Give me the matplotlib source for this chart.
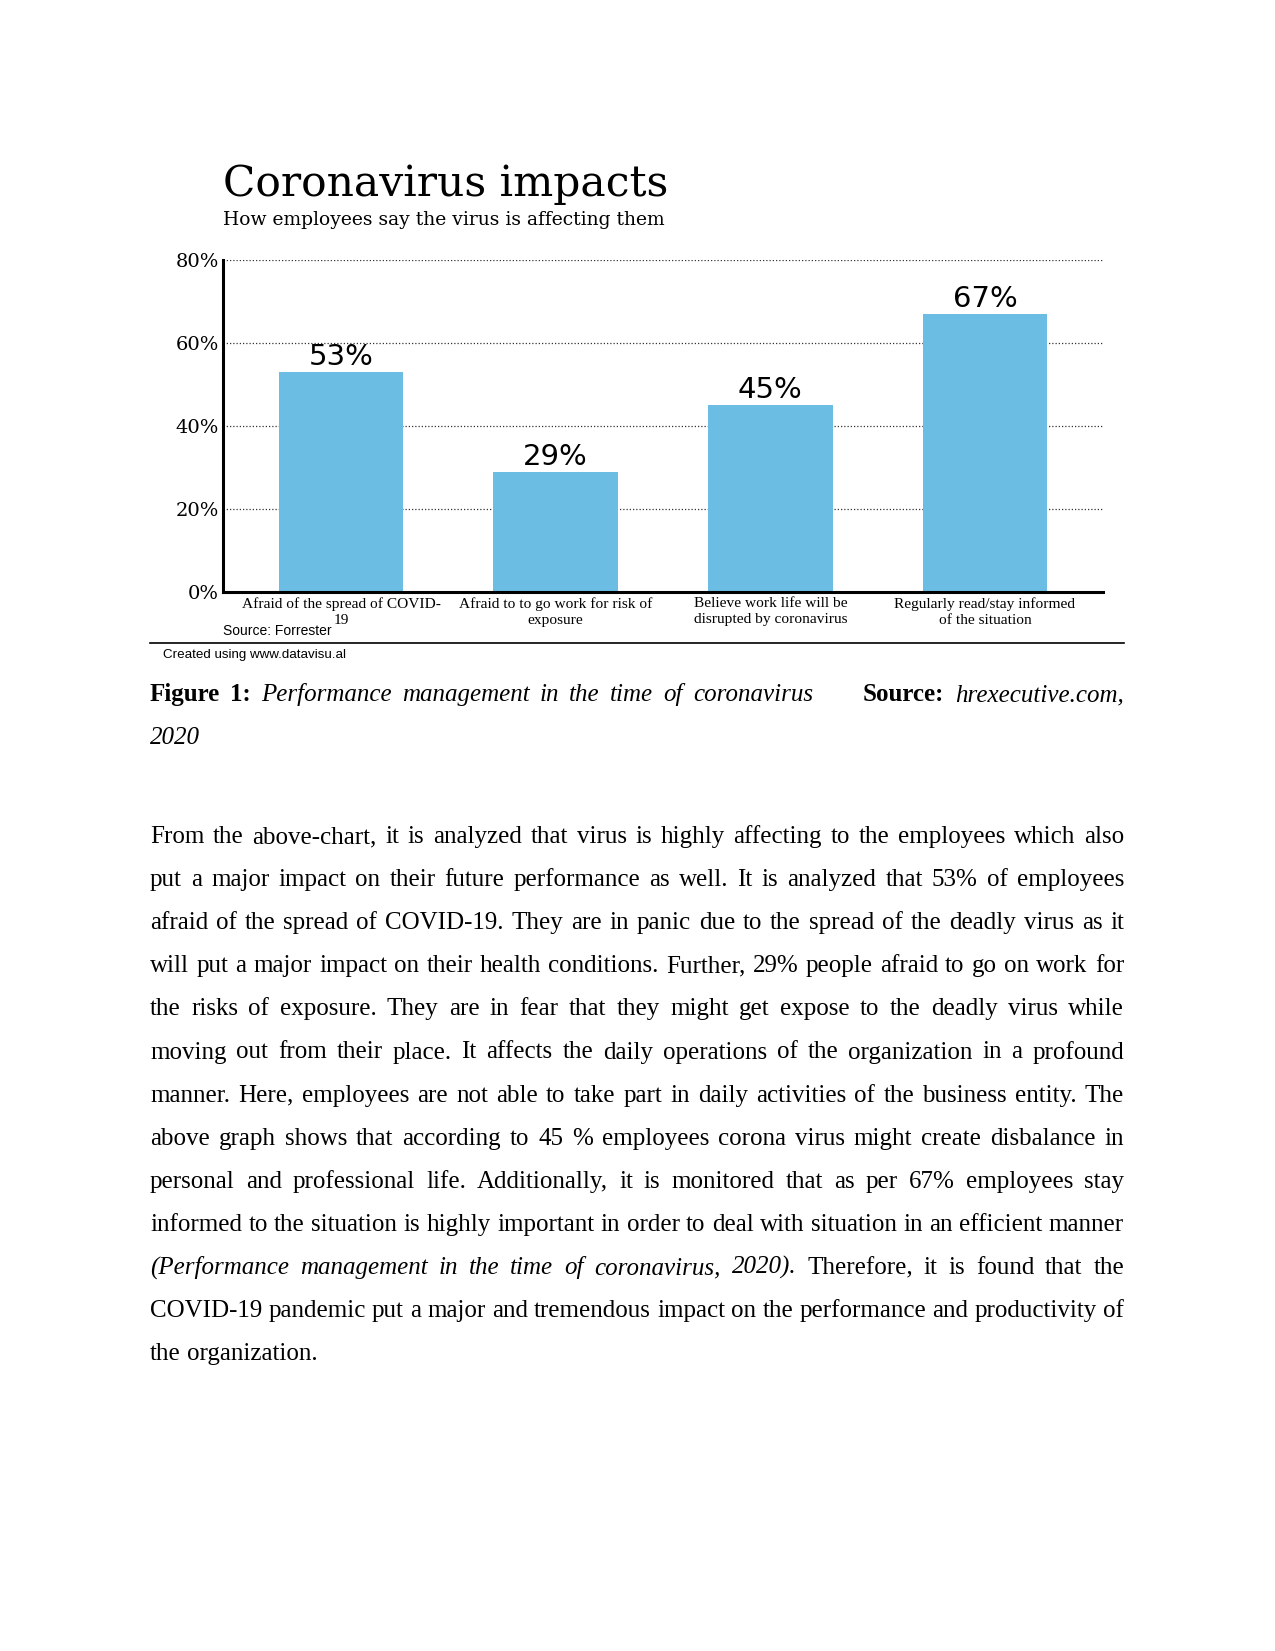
import matplotlib
matplotlib.use("Agg")
import matplotlib.pyplot as plt
from matplotlib.lines import Line2D
import numpy as np

# chart data
categories = ["Afraid of the spread of COVID-\n19",
              "Afraid to to go work for risk of\nexposure",
              "Believe work life will be\ndisrupted by coronavirus",
              "Regularly read/stay informed\nof the situation"]
values = [53, 29, 45, 67]
y_ticks = [0, 20, 40, 60, 80]
y_tick_labels = ["0%", "20%", "40%", "60%", "80%"]

# page text
caption_left = [("Figure 1:", "b"), ("Performance management in the time of coronavirus", "i")]
caption_right = [("Source:", "b"), ("hrexecutive.com,", "i")]
caption_line2 = [("2020", "i")]

body = [
    [("From the above-chart, it is analyzed that virus is highly affecting to the employees which also", "r")],
    [("put a major impact on their future performance as well. It is analyzed that 53% of employees", "r")],
    [("afraid of the spread of COVID-19. They are in panic due to the spread of the deadly virus as it", "r")],
    [("will put a major impact on their health conditions. Further, 29% people afraid to go on work for", "r")],
    [("the risks of exposure. They are in fear that they might get expose to the deadly virus while", "r")],
    [("moving out from their place. It affects the daily operations of the organization in a profound", "r")],
    [("manner. Here, employees are not able to take part in daily activities of the business entity. The", "r")],
    [("above graph shows that according to 45 % employees corona virus might create disbalance in", "r")],
    [("personal and professional life. Additionally, it is monitored that as per 67% employees stay", "r")],
    [("informed to the situation is highly important in order to deal with situation in an efficient manner", "r")],
    [("(Performance management in the time of coronavirus, 2020).", "i"), ("Therefore, it is found that the", "r")],
    [("COVID-19 pandemic put a major and tremendous impact on the performance and productivity of", "r")],
    [("the organization.", "r")],
]

W, H = 1275, 1651
fig = plt.figure(figsize=(W / 100, H / 100), dpi=100)
fig.patch.set_facecolor("white")


def fx(x):
    return x / W


def fy(y):
    return 1 - y / H


# --- chart ---
ax = fig.add_axes([fx(223), fy(592), fx(1103) - fx(223), fy(260) - fy(592)])
x = np.arange(len(values))
ax.bar(x, values, width=0.58, color="#6bbde3", zorder=2)
ax.set_xlim(-0.55, 3.55)
ax.set_ylim(0, 80)
ax.set_yticks(y_ticks)
ax.set_yticklabels(y_tick_labels, family="DejaVu Serif", fontsize=14)
ax.set_xticks(x)
ax.set_xticklabels(categories, family="Liberation Serif", fontsize=11.1, linespacing=1.3)
ax.tick_params(axis="y", length=0, pad=3)
ax.tick_params(axis="x", length=0, pad=3.5)
ax.yaxis.grid(True, linestyle=(0, (1, 1.6)), color="#333333", linewidth=0.9)
ax.set_axisbelow(True)
for side in ["top", "right"]:
    ax.spines[side].set_visible(False)
for side in ["left", "bottom"]:
    ax.spines[side].set_linewidth(2.2)
    ax.spines[side].set_color("black")

for xi, v in zip(x, values):
    ax.annotate(f"{v}%", (xi, v), xytext=(0, 7), textcoords="offset pixels",
                ha="center", va="baseline", fontsize=21, family="DejaVu Sans")

fig.text(fx(223), fy(196), "Coronavirus impacts", family="DejaVu Serif",
         fontsize=30.5, va="baseline")
fig.text(fx(223), fy(225), "How employees say the virus is affecting them",
         family="DejaVu Serif", fontsize=13.5, va="baseline")
fig.text(fx(223), fy(635), "Source: Forrester", family="Liberation Sans",
         fontsize=10, va="baseline")
fig.add_artist(Line2D([fx(150), fx(1124)], [fy(643), fy(643)], color="black", lw=1.2))
fig.text(fx(163), fy(658), "Created using www.datavisu.al", family="Liberation Sans",
         fontsize=9.6, va="baseline")

# --- document text ---
renderer = fig.canvas.get_renderer()
styles = {"r": {}, "i": {"style": "italic"}, "b": {"weight": "bold"}}


def put_line(segments, y, x0=150, x1=1124, justify=True):
    toks = [(w, st) for text, st in segments for w in text.split()]
    objs = [fig.text(0, fy(y), w, family="Liberation Serif", fontsize=18,
                     va="baseline", **styles[st]) for w, st in toks]
    widths = [t.get_window_extent(renderer).width for t in objs]
    if justify and len(objs) > 1:
        gap = (x1 - x0 - sum(widths)) / (len(objs) - 1)
    else:
        gap = 6.25
    pos = x0
    for t, w in zip(objs, widths):
        t.set_x(fx(pos))
        pos += w + gap


put_line(caption_left, 701, 150, 813)
put_line(caption_right, 701, 863, 1124)
put_line(caption_line2, 744, justify=False)

y0, step = 843, 43.1
for i, line in enumerate(body):
    put_line(line, y0 + i * step, justify=(i < len(body) - 1))

fig.savefig("out.png", dpi=100, facecolor="white")
